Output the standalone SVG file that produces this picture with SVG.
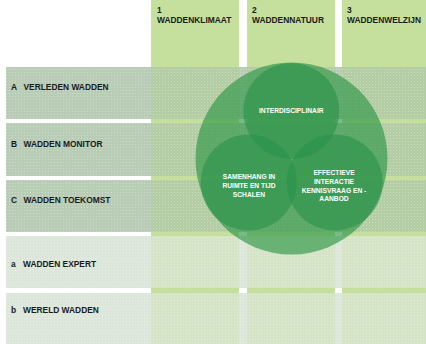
<svg xmlns="http://www.w3.org/2000/svg" width="426" height="344" viewBox="0 0 426 344">
  <style>
    .col { fill: #c5df9c; }
    .rowD { fill: #b9ccb6; }
    .rowDc { fill: #b4cda5; }
    .rowL { fill: #dde6da; }
    .rowLc { fill: #d5e4c7; }
    .lbl { font-family: "Liberation Sans", Arial, sans-serif; font-weight: bold; font-size: 8.4px; fill: #1a1a1a; }
    .ctxt { font-family: "Liberation Sans", Arial, sans-serif; font-weight: bold; font-size: 6.7px; fill: #ffffff; text-anchor: middle; }
    .big { fill: #2e9646; fill-opacity: 0.65; }
    .small { fill: #28914a; fill-opacity: 0.6; }
  </style>
  <defs>
    <pattern id="dots" width="3" height="3" patternUnits="userSpaceOnUse">
      <rect x="0" y="0" width="1" height="1" fill="#ffffff" fill-opacity="0.3"/>
    </pattern>
  </defs>
  <rect width="426" height="344" fill="#ffffff"/>

  <g id="columns">
    <rect class="col" x="151" y="0" width="88" height="344"/>
    <rect class="col" x="247" y="0" width="88" height="344"/>
    <rect class="col" x="342" y="0" width="84" height="344"/>
  </g>

  <g id="row-A">
    <rect class="rowD" x="6" y="67" width="420" height="52"/>
    <rect class="rowDc" x="151" y="67" width="88" height="52"/>
    <rect class="rowDc" x="247" y="67" width="88" height="52"/>
    <rect class="rowDc" x="342" y="67" width="84" height="52"/>
    <rect fill="url(#dots)" x="6" y="67" width="420" height="52"/>
    <text class="lbl" x="11" y="90">A</text>
    <text class="lbl" x="23.5" y="90">VERLEDEN WADDEN</text>
  </g>
  <g id="row-B">
    <rect class="rowD" x="6" y="123" width="420" height="53"/>
    <rect class="rowDc" x="151" y="123" width="88" height="53"/>
    <rect class="rowDc" x="247" y="123" width="88" height="53"/>
    <rect class="rowDc" x="342" y="123" width="84" height="53"/>
    <rect fill="url(#dots)" x="6" y="123" width="420" height="53"/>
    <text class="lbl" x="11" y="146.5">B</text>
    <text class="lbl" x="23.5" y="146.5">WADDEN MONITOR</text>
  </g>
  <g id="row-C">
    <rect class="rowD" x="6" y="180" width="420" height="52"/>
    <rect class="rowDc" x="151" y="180" width="88" height="52"/>
    <rect class="rowDc" x="247" y="180" width="88" height="52"/>
    <rect class="rowDc" x="342" y="180" width="84" height="52"/>
    <rect fill="url(#dots)" x="6" y="180" width="420" height="52"/>
    <text class="lbl" x="11" y="202.5">C</text>
    <text class="lbl" x="23.5" y="202.5">WADDEN TOEKOMST</text>
  </g>
  <g id="row-a">
    <rect class="rowL" x="6" y="236" width="420" height="52"/>
    <rect class="rowLc" x="151" y="236" width="88" height="52"/>
    <rect class="rowLc" x="247" y="236" width="88" height="52"/>
    <rect class="rowLc" x="342" y="236" width="84" height="52"/>
    <rect fill="url(#dots)" x="6" y="236" width="420" height="52"/>
    <text class="lbl" x="11" y="266.5">a</text>
    <text class="lbl" x="23" y="266.5">WADDEN EXPERT</text>
  </g>
  <g id="row-b">
    <rect class="rowL" x="6" y="293" width="420" height="51"/>
    <rect class="rowLc" x="151" y="293" width="88" height="51"/>
    <rect class="rowLc" x="247" y="293" width="88" height="51"/>
    <rect class="rowLc" x="342" y="293" width="84" height="51"/>
    <rect fill="url(#dots)" x="6" y="293" width="420" height="51"/>
    <text class="lbl" x="11" y="312.5">b</text>
    <text class="lbl" x="23" y="312.5">WERELD WADDEN</text>
  </g>

  <g id="col-1">
    <text class="lbl" x="157" y="12.5">1</text>
    <text class="lbl" x="157" y="22.5">WADDENKLIMAAT</text>
  </g>
  <g id="col-2">
    <text class="lbl" x="252" y="12.5">2</text>
    <text class="lbl" x="252" y="22.5">WADDENNATUUR</text>
  </g>
  <g id="col-3">
    <text class="lbl" x="347" y="12.5">3</text>
    <text class="lbl" x="347" y="22.5">WADDENWELZIJN</text>
  </g>

  <g id="big-circle">
    <circle class="big" cx="291.5" cy="158.5" r="96"/>
  </g>
  <g id="interdisciplinair">
    <circle class="small" cx="291.3" cy="111" r="48"/>
    <text class="ctxt" x="291.3" y="112.7">INTERDISCIPLINAIR</text>
  </g>
  <g id="samenhang">
    <circle class="small" cx="248.7" cy="182.5" r="48"/>
    <text class="ctxt" x="249" y="179.3">SAMENHANG IN</text>
    <text class="ctxt" x="249" y="188">RUIMTE EN TIJD</text>
    <text class="ctxt" x="249" y="196.7">SCHALEN</text>
  </g>
  <g id="effectieve">
    <circle class="small" cx="334.7" cy="182.5" r="48"/>
    <text class="ctxt" x="334" y="175.3">EFFECTIEVE</text>
    <text class="ctxt" x="334" y="184">INTERACTIE</text>
    <text class="ctxt" x="334" y="192.7">KENNISVRAAG EN -</text>
    <text class="ctxt" x="334" y="201.3">AANBOD</text>
  </g>
  <g id="connectors"></g>
</svg>
